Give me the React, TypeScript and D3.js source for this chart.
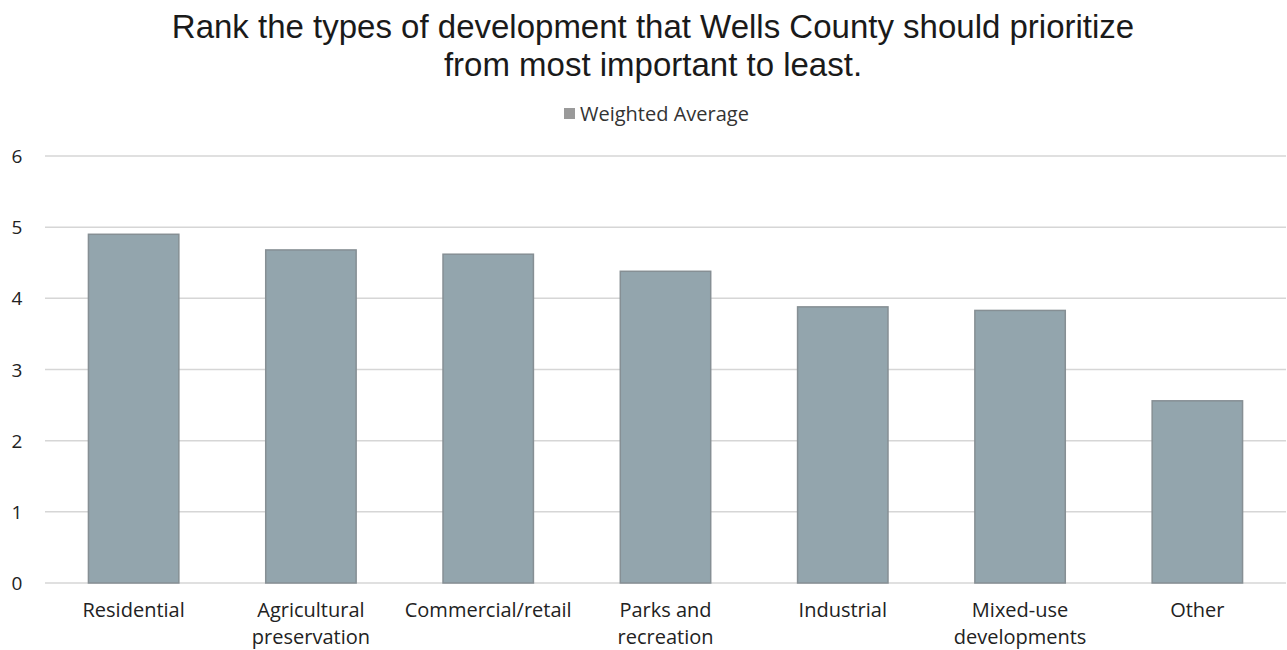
import React from "react";
import * as d3 from "d3";

const categories = [
  ["Residential"],
  ["Agricultural", "preservation"],
  ["Commercial/retail"],
  ["Parks and", "recreation"],
  ["Industrial"],
  ["Mixed-use", "developments"],
  ["Other"],
];
const values = [4.9, 4.68, 4.62, 4.38, 3.88, 3.83, 2.56];
const yTicks = [0, 1, 2, 3, 4, 5, 6];
const titleLines = [
  "Rank the types of development that Wells County should prioritize",
  "from most important to least.",
];
const legendLabel = "Weighted Average";

export default function App() {
  const W = 1287, H = 650;
  const left = 45, right = 1286, top = 156, bottom = 583;
  const x = d3.scaleBand<number>().domain(d3.range(values.length)).range([left, right]).paddingInner(0.49).paddingOuter(0.245);
  const y = d3.scaleLinear().domain([0, 6]).range([bottom, top]);
  const labelFont = "'Open Sans', 'Noto Sans', sans-serif";
  return (
    <svg width={W} height={H} style={{ position: "absolute", left: 0, top: 0, background: "#fff" }}>
      {titleLines.map((t, i) => (
        <text key={i} x={653} y={38 + i * 38} textAnchor="middle" fontFamily="'Liberation Sans', Arial, sans-serif" fontSize={33} fill="#1a1a1a">{t}</text>
      ))}
      <rect x={564} y={108} width={11} height={11} fill="#9a9a9a" />
      <text x={580} y={121} fontFamily={labelFont} fontSize={20} fill="#333">{legendLabel}</text>
      {yTicks.map(t => (
        <g key={t}>
          <line x1={left} x2={right} y1={y(t)} y2={y(t)} stroke="#d6d6d6" strokeWidth={1.5} />
          <text x={17} y={y(t) + 7} textAnchor="middle" fontFamily={labelFont} fontSize={19} fill="#222">{t}</text>
        </g>
      ))}
      {values.map((v, i) => (
        <rect key={i} x={x(i)} y={y(v)} width={x.bandwidth()} height={y(0) - y(v)} fill="#93a5ad" stroke="#868f94" strokeWidth={1.5} />
      ))}
      {categories.map((lines, i) => (
        <text key={i} x={(x(i) as number) + x.bandwidth() / 2} y={617} textAnchor="middle" fontFamily={labelFont} fontSize={20} fill="#222">
          {lines.map((l, j) => (
            <tspan key={j} x={(x(i) as number) + x.bandwidth() / 2} dy={j === 0 ? 0 : 27}>{l}</tspan>
          ))}
        </text>
      ))}
    </svg>
  );
}
